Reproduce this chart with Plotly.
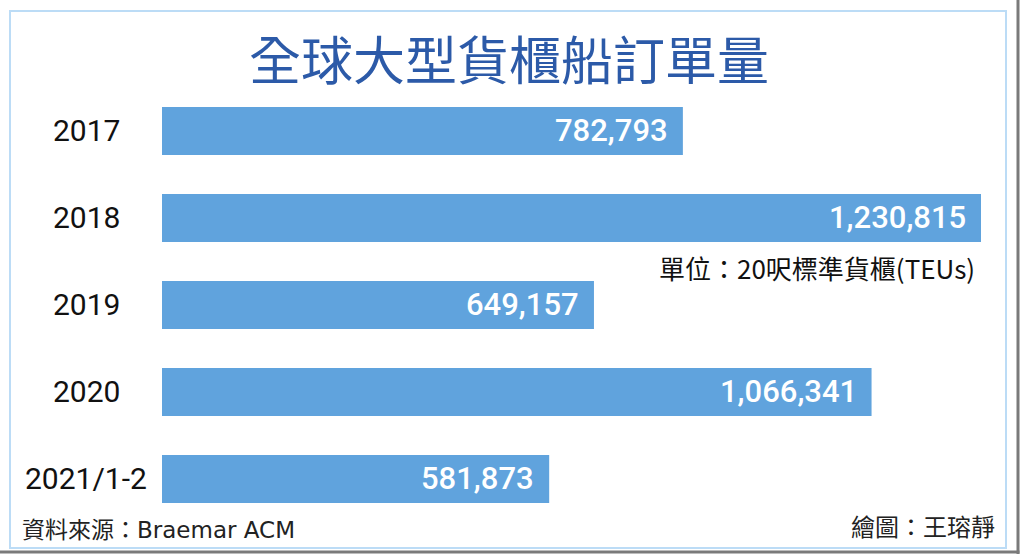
import plotly.graph_objects as go

W, H = 1024, 558

categories = ["2017", "2018", "2019", "2020", "2021/1-2"]
orders = [782793, 1230815, 649157, 1066341, 581873]
value_labels = ["782,793", "1,230,815", "649,157", "1,066,341", "581,873"]

title_text = "全球大型貨櫃船訂單量"
unit_text = "單位：20呎標準貨櫃(TEUs)"
source_text = "資料來源：Braemar ACM"
credit_text = "繪圖：王瑢靜"

CJK = "Noto Sans CJK TC, Noto Sans, sans-serif"
NUM = "Roboto, Noto Sans, sans-serif"

def px(x):
    return x / W

def py(y):
    return (H - y) / H

fig = go.Figure()
fig.add_trace(go.Bar(
    x=orders, y=categories, orientation="h",
    marker=dict(color="#60a3dd", line=dict(width=0)),
    hoverinfo="skip", showlegend=False,
))

annotations = []
for i, (c, v, lab) in enumerate(zip(categories, orders, value_labels)):
    # category axis: annotation y given as the category's serial index
    annotations.append(dict(
        x=v, y=i, xref="x", yref="y", text=lab, showarrow=False,
        xanchor="right", yanchor="middle", xshift=-13, yshift=1,
        font=dict(family=NUM, size=31, color="white", weight=500),
    ))
    annotations.append(dict(
        x=px(86), y=i, xref="paper", yref="y", text=c, showarrow=False,
        xanchor="center", yanchor="middle", yshift=1,
        font=dict(family=NUM, size=30, color="#111111"),
    ))

annotations += [
    dict(x=px(509), y=py(58), xref="paper", yref="paper", text=title_text,
         showarrow=False, xanchor="center", yanchor="middle",
         font=dict(family=CJK, size=52, color="#2c5aa8")),
    dict(x=px(977), y=py(267), xref="paper", yref="paper", text=unit_text,
         showarrow=False, xanchor="right", yanchor="middle",
         font=dict(family=CJK, size=26, color="#111111")),
    dict(x=px(20), y=py(530), xref="paper", yref="paper", text=source_text,
         showarrow=False, xanchor="left", yanchor="middle",
         font=dict(family="DejaVu Sans, " + CJK, size=23, color="#222222")),
    dict(x=px(997), y=py(525), xref="paper", yref="paper", text=credit_text,
         showarrow=False, xanchor="right", yanchor="middle",
         font=dict(family=CJK, size=24, color="#222222")),
]

shapes = [
    dict(type="rect", xref="paper", yref="paper",
         x0=px(10), x1=px(1006), y0=py(548), y1=py(11),
         line=dict(color="#bcdcf6", width=2), fillcolor="rgba(0,0,0,0)", layer="below"),
    dict(type="line", xref="paper", yref="paper",
         x0=px(1018), x1=px(1018), y0=py(554), y1=1,
         line=dict(color="#7a7a7a", width=3)),
    dict(type="line", xref="paper", yref="paper",
         x0=0, x1=px(1019.5), y0=py(552), y1=py(552),
         line=dict(color="#7a7a7a", width=3)),
]

fig.update_layout(
    width=W, height=H,
    margin=dict(l=0, r=0, t=0, b=0),
    paper_bgcolor="white", plot_bgcolor="white",
    bargap=0.448,
    xaxis=dict(domain=[px(162), px(981)], range=[0, 1230815], visible=False, fixedrange=True),
    yaxis=dict(type="category", domain=[py(522.5), py(87.5)], categoryorder="array",
               categoryarray=categories, range=[4.5, -0.5], visible=False, fixedrange=True),
    annotations=annotations,
    shapes=shapes,
)

fig.write_html("out.html", config={"displayModeBar": False},
               post_script="document.body.style.margin='0';document.body.style.overflow='hidden';")
